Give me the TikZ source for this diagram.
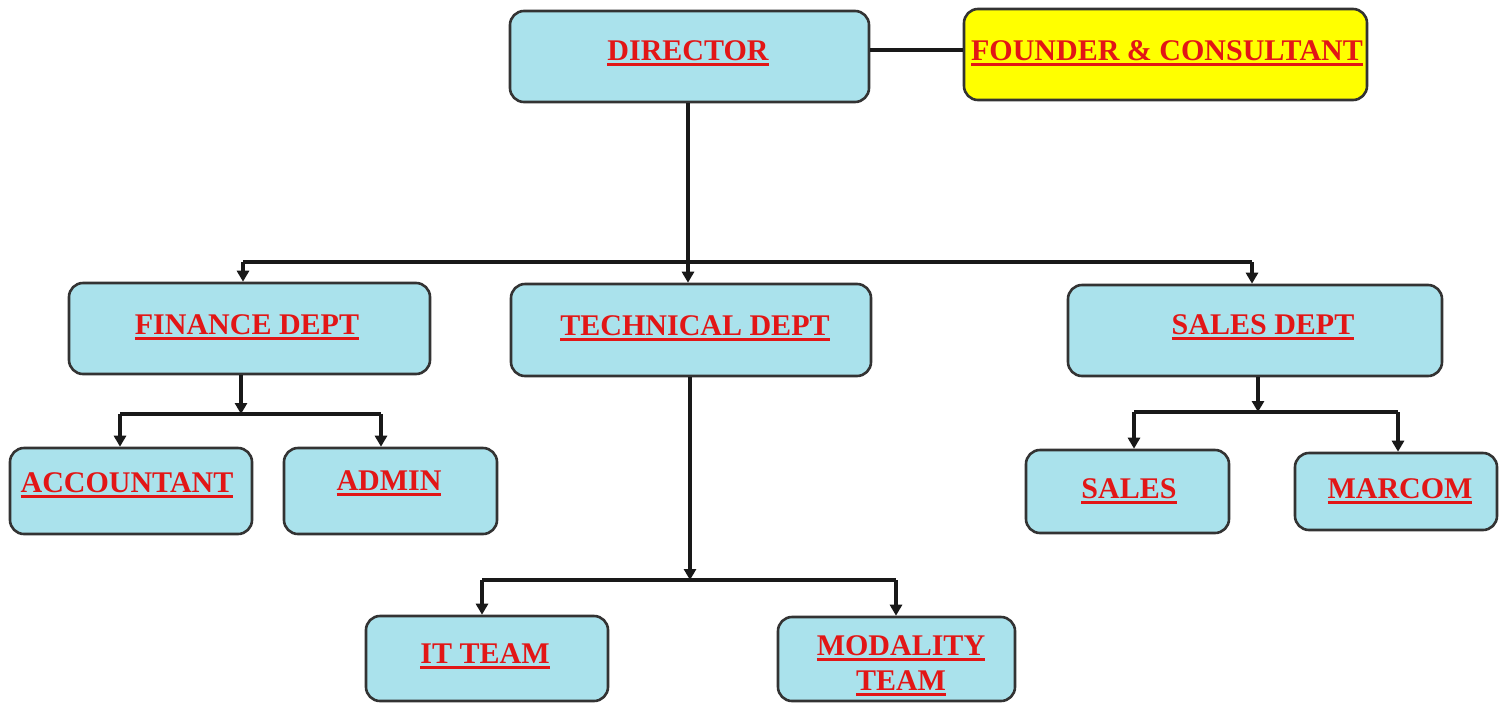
\documentclass[tikz,border=0pt]{standalone}
\usepackage{fontspec}
\setmainfont{Liberation Serif}
\usetikzlibrary{arrows.meta,calc}
\definecolor{boxblue}{RGB}{170,226,236}
\definecolor{boxyellow}{RGB}{255,255,0}
\definecolor{txtred}{RGB}{226,22,22}
\newcommand\ulx[1]{\setbox0\hbox{#1}\leavevmode\rlap{\rule[-5.5pt]{\wd0}{2.8pt}}\box0}
\tikzset{
  box/.style={draw=black!80, line width=2.6pt, rounded corners=14pt, fill=boxblue, inner sep=0pt},
  ybox/.style={box, fill=boxyellow},
  lbl/.style={anchor=base, text=txtred, font=\fontsize{30}{36}\selectfont\bfseries, inner sep=0pt},
  conn/.style={draw=black!90, line width=3.1pt},
  arr/.style={conn, -{Triangle[length=11pt,width=12pt]}}
}
\begin{document}
\begin{tikzpicture}[x=1pt,y=-1pt]
\clip (0,0) rectangle (1505,702);
\useasboundingbox (0,0) rectangle (1505,702);
\fill[white] (0,0) rectangle (1505,702);
% boxes
\node[box,  minimum width=359pt, minimum height=91pt] (dir)  at (689.5,56.5) {};
\node[ybox, minimum width=403pt, minimum height=91pt] (fnd)  at (1165.5,54.5) {};
\node[box,  minimum width=361pt, minimum height=91pt] (fin)  at (249.5,328.5) {};
\node[box,  minimum width=360pt, minimum height=92pt] (tech) at (691,330) {};
\node[box,  minimum width=374pt, minimum height=91pt] (sdep) at (1255,330.5) {};
\node[box,  minimum width=242pt, minimum height=86pt] (acc)  at (131,491) {};
\node[box,  minimum width=213pt, minimum height=86pt] (adm)  at (390.5,491) {};
\node[box,  minimum width=203pt, minimum height=83pt] (sal)  at (1127.5,491.5) {};
\node[box,  minimum width=202pt, minimum height=77pt] (mar)  at (1396,491.5) {};
\node[box,  minimum width=242pt, minimum height=85pt] (it)   at (487,658.5) {};
\node[box,  minimum width=237pt, minimum height=84pt] (mod)  at (896.5,659) {};
% labels
\node[lbl] (dirT)  at (688,60)   {\ulx{DIRECTOR}};
\node[lbl] (fndT)  at (1167,60)  {\ulx{FOUNDER \& CONSULTANT}};
\node[lbl] (finT)  at (247,334)  {\ulx{FINANCE DEPT}};
\node[lbl] (techT) at (695,335)  {\ulx{TECHNICAL DEPT}};
\node[lbl] (sdepT) at (1263,334) {\ulx{SALES DEPT}};
\node[lbl] (accT)  at (127,492)  {\ulx{ACCOUNTANT}};
\node[lbl] (admT)  at (389,490)  {\ulx{ADMIN}};
\node[lbl] (salT)  at (1129,498) {\ulx{SALES}};
\node[lbl] (marT)  at (1400,498) {\ulx{MARCOM}};
\node[lbl] (itT)   at (485,663)  {\ulx{IT TEAM}};
\node[lbl] (modT1) at (901,655)  {\ulx{MODALITY}};
\node[lbl] (modT2) at (901,690)  {\ulx{TEAM}};
% junction coordinates
\coordinate (topbar) at (688,262);
\coordinate (finj)  at (241,414);
\coordinate (accj)  at (120,414);
\coordinate (admj)  at (381,414);
\coordinate (techj) at (690,580);
\coordinate (itj)   at (482,580);
\coordinate (modj)  at (896,580);
\coordinate (sdepj) at (1258,412);
\coordinate (salj)  at (1134,412);
\coordinate (marj)  at (1398,412);
\coordinate (finx)  at (243,262);
\coordinate (sdepx) at (1252,262);
% connectors
\draw[conn] (dir.east |- 0,50) -- (fnd.west |- 0,50);
\draw[arr] (dir.south -| topbar) -- (tech.north -| topbar);
\draw[conn] (finx) -- (sdepx);
\draw[arr] (finx) -- (fin.north -| finx);
\draw[arr] (sdepx) -- (sdep.north -| sdepx);
% finance
\draw[arr] (fin.south -| finj) -- (finj);
\draw[conn] (accj) -- (admj);
\draw[arr] (accj) -- (acc.north -| accj);
\draw[arr] (admj) -- (adm.north -| admj);
% technical
\draw[arr] (tech.south -| techj) -- (techj);
\draw[conn] (itj) -- (modj);
\draw[arr] (itj) -- (it.north -| itj);
\draw[arr] (modj) -- (mod.north -| modj);
% sales
\draw[arr] (sdep.south -| sdepj) -- (sdepj);
\draw[conn] (salj) -- (marj);
\draw[arr] (salj) -- (sal.north -| salj);
\draw[arr] (marj) -- (mar.north -| marj);
\end{tikzpicture}
\end{document}
